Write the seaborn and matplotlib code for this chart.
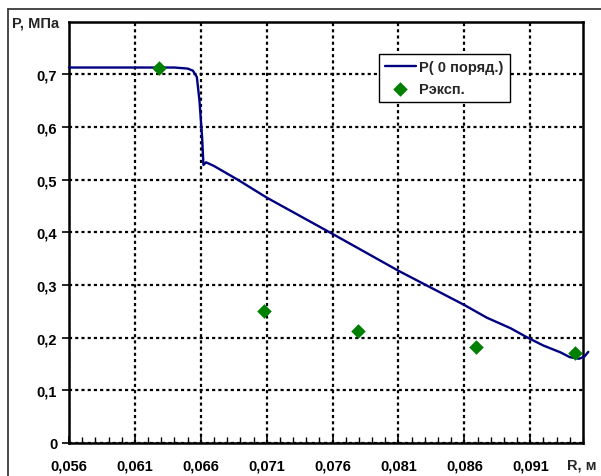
import matplotlib
matplotlib.use("Agg")
import matplotlib.pyplot as plt
import matplotlib.ticker as mticker
from matplotlib.lines import Line2D
import seaborn as sns
import pandas as pd

# --- data ---
line_r = [0.0560, 0.0600, 0.0640, 0.0650, 0.0654, 0.0657, 0.0659, 0.0661, 0.0662,
          0.0664, 0.0670, 0.0688, 0.0710, 0.0760, 0.0810, 0.0860, 0.0877, 0.0895,
          0.0908, 0.0920, 0.0930, 0.0933, 0.0940, 0.0947, 0.0951, 0.0954]
line_p = [0.713, 0.713, 0.713, 0.711, 0.707, 0.695, 0.650, 0.580, 0.528,
          0.533, 0.526, 0.500, 0.466, 0.397, 0.327, 0.262, 0.238, 0.218,
          0.200, 0.185, 0.175, 0.172, 0.163, 0.160, 0.164, 0.173]
exp_r = [0.0628, 0.0708, 0.0779, 0.0869, 0.0944]
exp_p = [0.713, 0.251, 0.213, 0.183, 0.170]
x_ticks = [0.056, 0.061, 0.066, 0.071, 0.076, 0.081, 0.086, 0.091]
y_ticks = [0, 0.1, 0.2, 0.3, 0.4, 0.5, 0.6, 0.7]
line_label = "P( 0 поряд.)"
exp_label = "Pэксп."

df_line = pd.DataFrame({"R": line_r, "P": line_p})
df_exp = pd.DataFrame({"R": exp_r, "P": exp_p})

sns.set_style("white")
plt.rcParams["font.family"] = ["Liberation Sans", "DejaVu Sans"]
plt.rcParams["font.weight"] = "bold"

W, H = 601, 477
FS = 10.5
fig = plt.figure(figsize=(W / 100, H / 100), dpi=100)
ax = fig.add_axes([69 / W, 1 - 444 / H, (583 - 69) / W, (444 - 22.7) / H])

sns.lineplot(data=df_line, x="R", y="P", ax=ax, sort=False, estimator=None,
             color="#000080", linewidth=1.7, label=line_label, clip_on=False, zorder=3)
sns.scatterplot(data=df_exp, x="R", y="P", ax=ax, marker="D", s=55,
                color="#008000", edgecolor="#008000", linewidth=0,
                label=exp_label, zorder=4, clip_on=False)

ax.set_xlim(0.056, 0.095)
ax.set_ylim(0, 0.8)
ax.set_xticks(x_ticks)
ax.set_yticks(y_ticks)
ax.xaxis.set_minor_locator(mticker.MultipleLocator(0.001))

ax.xaxis.set_major_formatter(mticker.FuncFormatter(lambda v, p: f"{v:.3f}".replace(".", ",")))
ax.yaxis.set_major_formatter(mticker.FuncFormatter(lambda v, p: "0" if abs(v) < 1e-9 else f"{v:.1f}".replace(".", ",")))

ax.grid(True, which="major", color="black", linestyle=(0, (1.4, 1.4)), linewidth=1.6)
ax.set_axisbelow(True)
ax.tick_params(axis="x", which="major", direction="in", length=5, width=1.2,
               pad=11.5, labelsize=FS, colors="black")
ax.tick_params(axis="x", which="minor", direction="in", length=4, width=1.0, colors="black")
ax.tick_params(axis="y", which="major", direction="out", length=5, width=1.2,
               pad=3.5, labelsize=FS, colors="black")
ax.tick_params(bottom=True, left=True, which="both")
ax.tick_params(axis="y", which="minor", left=False)
for lab in ax.get_xticklabels() + ax.get_yticklabels():
    lab.set_fontweight("bold")

for sp in ax.spines.values():
    sp.set_color("black")
    sp.set_linewidth(1.8)
    sp.set_visible(True)

ax.set_xlabel("")
ax.set_ylabel("")

leg = ax.legend(loc="upper left", bbox_to_anchor=(0.603, 0.923), borderaxespad=0,
                frameon=True, fancybox=False, framealpha=1, edgecolor="black",
                prop={"weight": "bold", "size": FS}, handlelength=2.1,
                handletextpad=0.25, labelspacing=0.5, borderpad=0.42)
leg.get_frame().set_linewidth(1.0)

fig.text(12 / W, 1 - 23 / H, "P, МПа", ha="left", va="center", fontsize=FS, fontweight="bold")
fig.text(567 / W, 1 - 466 / H, "R, м", ha="left", va="center", fontsize=FS, fontweight="bold")

# outer chart frame
fig.add_artist(Line2D([8 / W, 1.0], [1 - 10 / H, 1 - 10 / H], transform=fig.transFigure,
                      color="#3a3a3a", linewidth=1.3))
fig.add_artist(Line2D([8 / W, 8 / W], [0, 1 - 10 / H], transform=fig.transFigure,
                      color="#3a3a3a", linewidth=1.3))

fig.savefig("out.png", dpi=100, facecolor="white")
